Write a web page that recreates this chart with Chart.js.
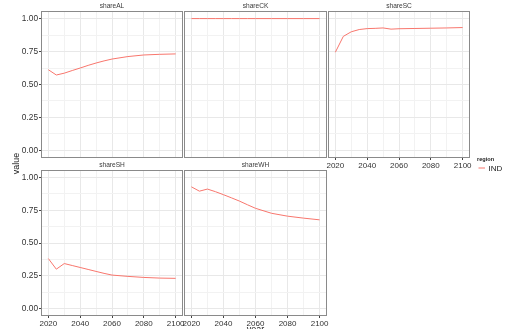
<!DOCTYPE html>
<html>
<head>
<meta charset="utf-8">
<script src="https://cdn.jsdelivr.net/npm/chart.js@4.4.1/dist/chart.umd.min.js"></script>
<style>
  html, body { margin: 0; padding: 0; background: #ffffff; }
  #wrap { position: relative; width: 509px; height: 329px; overflow: hidden; background: #ffffff; }
  #wrap canvas { position: absolute; left: 0; top: 0; }
</style>
</head>
<body>
<div id="wrap"></div>
<script>
// Model years and per-sector shares for region IND
const years   = [2020, 2025, 2030, 2035, 2040, 2045, 2050, 2055, 2060, 2070, 2080, 2090, 2100];
const shareAL = [0.612, 0.572, 0.586, 0.606, 0.625, 0.645, 0.663, 0.679, 0.693, 0.712, 0.724, 0.729, 0.732];
const shareCK = [1.000, 1.000, 1.000, 1.000, 1.000, 1.000, 1.000, 1.000, 1.000, 1.000, 1.000, 1.000, 1.000];
const shareSC = [0.745, 0.865, 0.900, 0.917, 0.924, 0.926, 0.929, 0.920, 0.923, 0.925, 0.927, 0.929, 0.932];
const shareSH = [0.381, 0.300, 0.343, 0.328, 0.313, 0.298, 0.283, 0.268, 0.255, 0.245, 0.237, 0.232, 0.230];
const shareWH = [0.929, 0.896, 0.912, 0.892, 0.869, 0.845, 0.820, 0.792, 0.765, 0.727, 0.705, 0.690, 0.677];

const panelNames = ['shareAL', 'shareCK', 'shareSC', 'shareSH', 'shareWH'];
const panelValues = [shareAL, shareCK, shareSC, shareSH, shareWH];
const regionName = 'IND';

// Axis breaks (major labelled, minor unlabelled grid)
const xBreaks = [2020, 2030, 2040, 2050, 2060, 2070, 2080, 2090, 2100];
const xLabels = [2020, 2040, 2060, 2080, 2100];
const yBreaks = [0, 0.125, 0.25, 0.375, 0.5, 0.625, 0.75, 0.875, 1];
const yLabels = [0, 0.25, 0.5, 0.75, 1];

const W = 509, H = 329;
const LINE = '#F8766D';
const FONT = "'Liberation Sans', Arial, Helvetica, sans-serif";

// Facet layout: [left, top, right, bottom], which axes carry labels
const layout = [
  { rect: [42, 12, 182, 157], showX: false, showY: true },
  { rect: [185, 12, 326, 157], showX: false, showY: false },
  { rect: [329, 12, 469, 157], showX: true,  showY: false },
  { rect: [42, 171, 182, 315], showX: true,  showY: true },
  { rect: [185, 171, 326, 315], showX: true,  showY: false }
];

const isMajorX = v => xLabels.includes(v);
const isMajorY = v => yLabels.some(m => Math.abs(m - v) < 1e-9);

const facetDecor = {
  id: 'facetDecor',
  afterDraw(chart, args, opts) {
    const { ctx, chartArea: a } = chart;
    ctx.save();
    // panel border
    ctx.strokeStyle = '#8a8a8a';
    ctx.lineWidth = 1;
    ctx.strokeRect(Math.round(a.left) - 0.5, Math.round(a.top) - 0.5,
                   Math.round(a.right - a.left) + 1, Math.round(a.bottom - a.top) + 1);
    // strip label
    ctx.fillStyle = '#3a3a3a';
    ctx.font = '6.6px ' + FONT;
    ctx.textAlign = 'center';
    ctx.textBaseline = 'middle';
    ctx.fillText(opts.title, (a.left + a.right) / 2, a.top - 5.5);

    if (opts.figureText) {
      // axis titles
      ctx.fillStyle = '#1a1a1a';
      ctx.font = '9px ' + FONT;
      ctx.textAlign = 'center';
      ctx.textBaseline = 'top';
      ctx.fillText('year', 255.5, 325.5);
      ctx.save();
      ctx.translate(17, 163.5);
      ctx.rotate(-Math.PI / 2);
      ctx.textBaseline = 'middle';
      ctx.fillText('value', 0, 0);
      ctx.restore();
      // legend
      ctx.textAlign = 'left';
      ctx.textBaseline = 'middle';
      ctx.font = 'bold 5.6px ' + FONT;
      ctx.fillText('region', 477, 159.5);
      ctx.strokeStyle = LINE;
      ctx.lineWidth = 1;
      ctx.beginPath();
      ctx.moveTo(478.5, 168);
      ctx.lineTo(485, 168);
      ctx.stroke();
      ctx.fillStyle = '#1a1a1a';
      ctx.font = '8px ' + FONT;
      ctx.fillText(regionName, 488.5, 168.5);
    }
    ctx.restore();
  }
};

const wrap = document.getElementById('wrap');

panelNames.forEach((name, i) => {
  const { rect, showX, showY } = layout[i];
  const [l, t, r, b] = rect;
  // labelled axes get the whole margin as their box so labels are not clipped
  const yW = showY ? l : 0;
  const xH = showX ? H - b : 0;
  const canvas = document.createElement('canvas');
  canvas.width = W; canvas.height = H;
  canvas.style.width = W + 'px'; canvas.style.height = H + 'px';
  wrap.appendChild(canvas);

  new Chart(canvas, {
    type: 'line',
    data: {
      datasets: [{
        label: regionName,
        data: years.map((yr, k) => ({ x: yr, y: panelValues[i][k] })),
        borderColor: LINE,
        borderWidth: 1,
        pointRadius: 0,
        tension: 0,
        fill: false
      }]
    },
    plugins: [facetDecor],
    options: {
      responsive: false,
      animation: false,
      devicePixelRatio: 1,
      layout: { padding: { left: l - yW, top: t, right: W - r, bottom: H - b - xH } },
      plugins: {
        legend: { display: false },
        tooltip: { enabled: false },
        facetDecor: { title: name, figureText: i === 0 }
      },
      scales: {
        x: {
          type: 'linear',
          min: 2016, max: 2104,
          afterBuildTicks(s) { s.ticks = xBreaks.map(v => ({ value: v })); },
          afterFit(s) { s.height = xH; s.paddingLeft = 0; s.paddingRight = 0; },
          border: { display: false },
          grid: {
            color: c => isMajorX(c.tick && c.tick.value) ? '#e8e8e8' : '#f2f2f2',
            lineWidth: 1,
            drawTicks: showX,
            tickLength: 3,
            tickColor: c => isMajorX(c.tick && c.tick.value) ? '#444444' : 'rgba(0,0,0,0)'
          },
          ticks: {
            display: showX,
            autoSkip: false,
            maxRotation: 0,
            padding: 1,
            color: '#333333',
            font: { family: FONT, size: 8 },
            callback: v => isMajorX(v) ? String(v) : ''
          }
        },
        y: {
          type: 'linear',
          min: -0.05, max: 1.05,
          afterBuildTicks(s) { s.ticks = yBreaks.map(v => ({ value: v })); },
          afterFit(s) { s.width = yW; s.paddingTop = 0; s.paddingBottom = 0; },
          border: { display: false },
          grid: {
            color: c => isMajorY(c.tick && c.tick.value) ? '#e8e8e8' : '#f2f2f2',
            lineWidth: 1,
            drawTicks: showY,
            tickLength: 3,
            tickColor: c => isMajorY(c.tick && c.tick.value) ? '#444444' : 'rgba(0,0,0,0)'
          },
          ticks: {
            display: showY,
            autoSkip: false,
            padding: 1,
            color: '#333333',
            font: { family: FONT, size: 8.3 },
            callback: v => isMajorY(v) ? v.toFixed(2) : ''
          }
        }
      }
    }
  });
});
</script>
</body>
</html>
